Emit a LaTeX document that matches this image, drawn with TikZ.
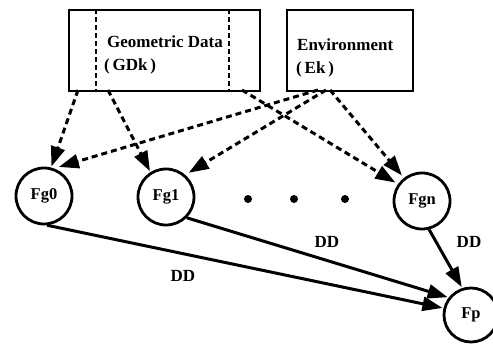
\documentclass[tikz,border=0pt]{standalone}
\usepackage{fontspec}
\setmainfont{Liberation Serif}
\usetikzlibrary{arrows.meta,calc}

\tikzset{
  lbl/.style={font=\fontsize{17}{20}\selectfont\bfseries, inner sep=0pt},
  datbox/.style={draw, line width=2.4pt},
  fnode/.style={draw, circle, line width=2.8pt, minimum size=56pt, inner sep=0pt,
    font=\fontsize{16.5}{20}\selectfont\bfseries},
  flow/.style={line width=3pt, dash pattern=on 6pt off 4pt,
    -{Triangle[length=20pt,width=14pt]}, shorten >=1pt},
  dep/.style={line width=3pt, -{Triangle[length=20pt,width=14pt]}, shorten >=1pt},
  elip/.style={circle, fill, inner sep=0pt, minimum size=8pt}
}

\begin{document}
\begin{tikzpicture}[x=1pt, y=-1pt]
  \useasboundingbox (0,0) rectangle (493,343);

  % source boxes
  \node[datbox, minimum width=191pt, minimum height=81pt, anchor=north west] (gd) at (68,9) {};
  \draw[line width=2.6pt, dash pattern=on 5pt off 3pt] (96,9) -- (96,90) (229,9) -- (229,90);
  \node[lbl, anchor=west] (gdt) at (107,42) {Geometric Data};
  \node[lbl, anchor=west] (gdk) at (104,66) {(\,GDk\,)};

  \node[datbox, minimum width=126pt, minimum height=81pt, anchor=north west] (env) at (286,9) {};
  \node[lbl, anchor=west] (envt) at (297,45) {Environment};
  \node[lbl, anchor=west] (ek) at (296,69) {(\,Ek\,)};

  % feature nodes
  \node[fnode] (fg0) at (44,196) {Fg0};
  \node[fnode] (fg1) at (166,197) {Fg1};
  \node[fnode] (fgn) at (422,201) {Fgn};
  \node[fnode, minimum size=54pt] (fp) at (471,315) {Fp};

  \node[elip] (d1) at (248,199) {};
  \node[elip] (d2) at (294,199) {};
  \node[elip] (d3) at (345,199) {};

  % start points on box bottoms
  \coordinate (g0) at (78,90);
  \coordinate (g1) at (108,90);
  \coordinate (g2) at (242,90);
  \coordinate (e0) at (318,90);
  \coordinate (e1) at (326,90);
  \coordinate (e2) at (330,90);

  % dashed data flows
  \draw[flow] (g0) -- (fg0.76);
  \draw[flow] (g1) -- (fg1.122);
  \draw[flow, shorten >=3pt] (g2) -- (fgn.145);
  \draw[flow, shorten >=5pt] (e0) -- (fg0.70);
  \draw[flow, shorten >=4pt] (e1) -- (fg1.49);
  \draw[flow, shorten >=3pt] (e2) -- (fgn.128);

  % solid dependencies
  \draw[dep] (fg0.-84) -- (fp.166);
  \draw[dep] (fg1.-45) -- (fp.142);
  \draw[dep] (fgn.-76) -- (fp.108);

  \node[lbl] (dd1) at (327,242) {DD};
  \node[lbl] (dd2) at (469,242) {DD};
  \node[lbl] (dd3) at (183,276) {DD};
\end{tikzpicture}
\end{document}
